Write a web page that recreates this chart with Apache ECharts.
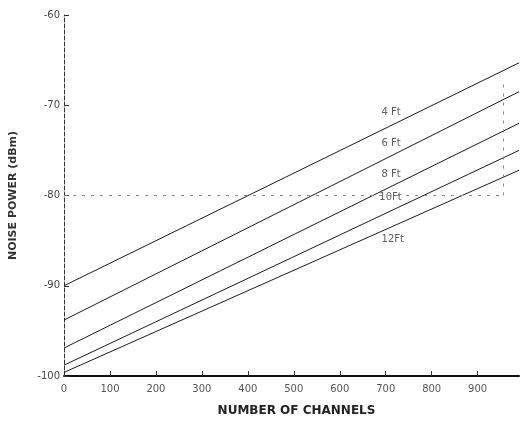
<!DOCTYPE html>
<html>
<head>
<meta charset="utf-8">
<script src="https://cdn.jsdelivr.net/npm/echarts@6/dist/echarts.min.js"></script>
<style>html,body{margin:0;padding:0;background:#fff;}#c{width:523px;height:425px;}</style>
</head>
<body>
<div id="c"></div>
<script>
// Lines: noise power (dBm) vs number of channels, per distance
var lineNames = ['4 Ft', '6 Ft', '8 Ft', '10Ft', '12Ft'];
var channelEnds = [0, 990];
var powerAt0 = [-90.0, -93.8, -96.9, -98.8, -99.6];
var powerAtEnd = [-65.3, -68.5, -72.0, -75.0, -77.2];
// Label anchor (channels, dBm) for each line name
var labelX = [691, 691, 691, 686, 691];
var labelY = [-70.75, -74.2, -77.7, -80.2, -84.9];
// Dotted reference line at -80 dBm
var refLevel = -80;
var refEnd = 955;
var refTop = -67.2;

var chart = echarts.init(document.getElementById('c'));
var series = lineNames.map(function (n, i) {
  return {
    name: n, type: 'line', symbol: 'none', silent: true,
    lineStyle: { color: '#1a1a1a', width: 1 },
    data: [[channelEnds[0], powerAt0[i]], [channelEnds[1], powerAtEnd[i]]]
  };
});
series.push({
  type: 'scatter', symbolSize: 0, silent: true,
  data: lineNames.map(function (n, i) { return [labelX[i], labelY[i], n]; }),
  label: {
    show: true, position: 'right', distance: 0,
    formatter: function (p) { return p.value[2]; },
    color: '#333', fontSize: 10, fontFamily: 'DejaVu Sans'
  }
});
series.push({
  type: 'line', symbol: 'none', silent: true, data: [],
  markLine: {
    silent: true, symbol: 'none', label: { show: false },
    lineStyle: { color: '#888', type: [3, 6], width: 1 },
    data: [
      [{ coord: [0, refLevel] }, { coord: [refEnd, refLevel] }],
      [{ coord: [refEnd, refLevel] }, { coord: [refEnd, refTop] }]
    ]
  }
});

chart.setOption({
  animation: false,
  backgroundColor: '#fff',
  grid: { left: 61, right: 4, top: 15, bottom: 49 },
  xAxis: {
    type: 'value', min: 0, max: 990, interval: 100,
    name: 'NUMBER OF CHANNELS', nameLocation: 'middle', nameGap: 29,
    nameTextStyle: { color: '#222', fontSize: 12, fontWeight: 'bold', fontFamily: 'DejaVu Sans', padding: [0, 0, 0, 10] },
    axisLine: { lineStyle: { color: '#111', width: 2 } },
    axisTick: { inside: true, length: 5, lineStyle: { color: '#333' } },
    axisLabel: { color: '#555', fontSize: 10, fontFamily: 'DejaVu Sans', margin: 8, showMaxLabel: false,
      formatter: function (v) { return v % 100 === 0 ? v : ''; } },
    splitLine: { show: false }
  },
  yAxis: {
    type: 'value', min: -100, max: -60, interval: 10,
    name: 'NOISE POWER (dBm)', nameLocation: 'middle', nameGap: 45, nameRotate: 90,
    nameTextStyle: { color: '#333', fontSize: 11, fontWeight: 'bold', fontFamily: 'DejaVu Sans' },
    axisLine: { lineStyle: { color: '#333', width: 1, type: [4, 2] } },
    axisTick: { inside: true, length: 5, lineStyle: { color: '#333' } },
    axisLabel: { color: '#444', fontSize: 10, fontFamily: 'DejaVu Sans', margin: 4 },
    splitLine: { show: false }
  },
  series: series
});
</script>
</body>
</html>
